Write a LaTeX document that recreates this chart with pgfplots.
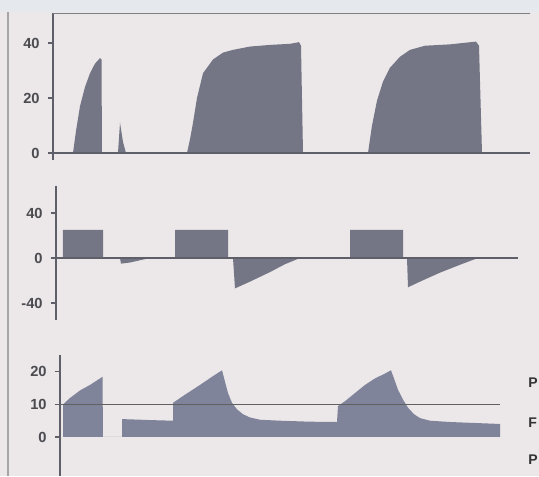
\documentclass[border=0pt]{standalone}
\usepackage{fontspec}
\setmainfont{Liberation Sans}
\usepackage{pgfplots}
\pgfplotsset{compat=1.18}

\definecolor{bg}{RGB}{236,231,233}
\definecolor{band}{RGB}{229,233,238}
\definecolor{axc}{RGB}{95,95,105}
\definecolor{lab}{RGB}{75,75,80}
\definecolor{wave}{RGB}{116,118,134}
\definecolor{waveb}{RGB}{128,132,154}

% positions are reference pixels times 0.75pt, y downwards
\pgfplotsset{
  wave/.style={
    scale only axis,
    axis y line=left, axis x line=none,
    axis line style={draw=axc, line width=0.8pt, -},
    tick style={draw=axc, line width=0.8pt},
    tick align=outside, major tick length=4pt,
    yticklabel style={font=\fontsize{11}{12}\selectfont\bfseries, text=lab,
      xshift=-2.5pt, /pgf/number format/assume math mode=true},
    anchor=south west,
  },
}

\begin{document}
\begin{tikzpicture}
\begin{scope}[x=0.75pt,y=-0.75pt]
  \fill[bg] (0,0) rectangle (539,476);
  \fill[band] (0,0) rectangle (539,12);
  \draw[gray!70, line width=0.8pt] (8,12) -- (8,476);
\end{scope}

% top panel: pressure
\begin{axis}[wave, at={(39.75pt,-120pt)}, width=357.75pt, height=110.25pt,
  xmin=53, xmax=530, ymin=-2.55, ymax=50.9, ytick={0,20,40}]
\addplot[fill=wave, draw=none] coordinates {
  (53,0) (73,0) (76,8) (80,17) (85,24) (90,29) (95,32.5) (100,34.5) (101.5,34) (102,0)
  (118,0) (120,11) (123,4) (126,0)
  (187,0) (190,5) (193,11) (197,20) (203,29) (213,34) (223,36.5) (233,37.5)
  (250,38.7) (270,39.3) (290,39.7) (299,40.3) (301,39) (303,0)
  (368,0) (372,10) (377,19) (383,26) (390,31) (400,35) (410,37.5) (425,39)
  (450,39.5) (476,40.5) (479,39) (482,0) (530,0)} \closedcycle;
\addplot[draw=axc, line width=1pt] coordinates {(53,0) (530,0)};
\draw[draw=axc!80, line width=1.5pt] (rel axis cs:0,1) -- ([xshift=12pt]rel axis cs:1,1);
\end{axis}

% middle panel: flow
\begin{axis}[wave, at={(42pt,-240pt)}, width=346.5pt, height=100.5pt,
  xmin=56, xmax=518, ymin=-55.1, ymax=64, ytick={-40,0,40}]
\addplot[fill=wave, draw=none] coordinates {
  (56,0) (63,0) (63,25) (103,25) (103,0)
  (120,0) (121,-5) (130,-4) (140,-2) (150,0)
  (175,0) (175,25) (228,25) (228,0)
  (233,0) (235,-27) (250,-21) (270,-12.5) (285,-5.5) (300,0)
  (350,0) (350,25) (403,25) (403,0)
  (407,0) (408,-26) (420,-21) (440,-13) (460,-6) (475,-1) (480,0) (518,0)} \closedcycle;
\addplot[draw=axc, line width=1pt] coordinates {(56,0) (518,0)};
\end{axis}

% bottom panel: pressure with reference line
\begin{axis}[wave, at={(45pt,-357pt)}, width=330pt, height=90.75pt,
  xmin=60, xmax=500, ymin=-12, ymax=25.2, ytick={0,10,20}]
\addplot[fill=waveb, draw=none] coordinates {
  (63,0) (63,10) (70,12) (80,14.3) (90,16) (100,18) (102.5,18.5) (103,0)
  (122,0) (122,5.5) (150,5.2) (173,5) (173,10.5) (185,13) (200,16) (212,18.5)
  (222,20.5) (225,17) (228,13.5) (232,10.5) (237,8.5) (243,7) (250,6) (260,5.3)
  (280,5) (310,4.7) (337,4.6) (338,9.5) (345,11) (355,13.5) (365,16) (375,18)
  (385,19.5) (391,20.5) (394,18) (398,14.5) (403,11.5) (408,9) (414,7) (420,5.8)
  (430,5) (450,4.6) (475,4.3) (500,4) (500,0)} \closedcycle;
\addplot[draw=gray!75!black, line width=0.9pt] coordinates {(60,10) (500,10)};
\end{axis}

\begin{scope}[x=0.75pt,y=-0.75pt]
  \foreach \yy/\tt in {383/P, 423/F, 460/P}
    \node[anchor=west, inner sep=0pt, text=black!80,
      font=\fontsize{10.5}{12}\selectfont\bfseries] at (528,\yy) {\tt};
\end{scope}
\pgfresetboundingbox
\useasboundingbox (0pt,0pt) rectangle (404.25pt,-357pt);
\end{tikzpicture}
\end{document}
